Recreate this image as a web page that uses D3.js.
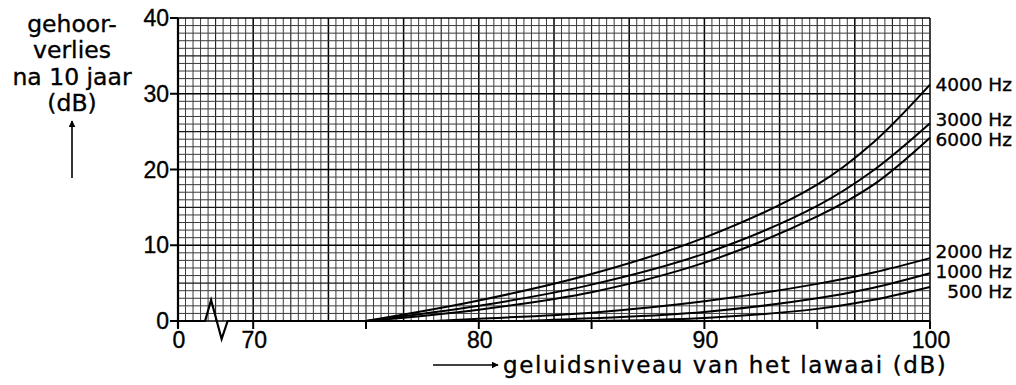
<!DOCTYPE html>
<html>
<head>
<meta charset="utf-8">
<script src="https://cdn.jsdelivr.net/npm/d3@7"></script>
<style>
  body { margin: 0; background: #fff; }
  svg { display: block; }
  text { fill: #000; stroke: #000; stroke-width: 0.35px; }
</style>
</head>
<body>
<div id="chart"></div>
<script>
// x values (dB) and hearing loss after 10 years (dB)
var seriesNames = ['4000 Hz', '3000 Hz', '6000 Hz', '2000 Hz', '1000 Hz', '500 Hz'];
var curve4000 = [[75, 0], [80, 2.7], [85, 6.2], [90, 11.0], [95, 18.0], [97.5, 23.6], [100, 31.2]];
var curve3000 = [[75, 0], [80, 2.0], [85, 4.8], [90, 8.9], [95, 15.2], [97.5, 19.9], [100, 26.1]];
var curve6000 = [[75, 0], [80, 1.5], [85, 3.8], [90, 7.7], [95, 13.8], [97.5, 18.0], [100, 24.2]];
var curve2000 = [[78, 0], [80, 0.3], [85, 1.1], [90, 2.6], [95, 4.9], [97.5, 6.4], [100, 8.3]];
var curve1000 = [[82, 0], [85, 0.35], [90, 1.2], [95, 3.0], [97.5, 4.4], [100, 6.3]];
var curve500 = [[85, 0], [90, 0.4], [95, 1.6], [97.5, 2.8], [100, 4.5]];
var allCurves = [curve4000, curve3000, curve6000, curve2000, curve1000, curve500];

var xTicks = [0, 70, 75, 80, 85, 90, 95, 100];
var xTickLabels = [0, 70, 80, 90, 100];
var yTicks = [0, 10, 20, 30, 40];

var width = 1016, height = 385;
var plotLeft = 178, plotRight = 930, plotTop = 18, plotBottom = 321;

var svg = d3.select('#chart').append('svg')
  .attr('width', width)
  .attr('height', height);

// the squared paper: 100 x 40 small squares
var paperX = d3.scaleLinear().domain([0, 100]).range([plotLeft, plotRight]);
var y = d3.scaleLinear().domain([0, 40]).range([plotBottom, plotTop]);
// broken axis: 0..70 squeezed into the first 10 squares
var x = d3.scaleLinear().domain([0, 70, 100]).range([plotLeft, paperX(10), plotRight]);

function lineWeight(i) {
  if (i % 10 === 0) return 1.5;
  if (i % 5 === 0) return 1.1;
  return 1;
}
function lineColor(i) {
  if (i % 10 === 0) return '#000';
  if (i % 5 === 0) return '#1a1a1a';
  return '#3a3a3a';
}

var grid = svg.append('g');
grid.selectAll('line.v')
  .data(d3.range(0, 101))
  .enter().append('line')
  .attr('class', 'v')
  .attr('x1', function(d) { return paperX(d); })
  .attr('x2', function(d) { return paperX(d); })
  .attr('y1', plotTop)
  .attr('y2', plotBottom)
  .attr('stroke', lineColor)
  .attr('stroke-width', lineWeight);

grid.selectAll('line.h')
  .data(d3.range(0, 41))
  .enter().append('line')
  .attr('class', 'h')
  .attr('x1', plotLeft)
  .attr('x2', plotRight)
  .attr('y1', function(d) { return y(d); })
  .attr('y2', function(d) { return y(d); })
  .attr('stroke', lineColor)
  .attr('stroke-width', lineWeight);

// curves
var line = d3.line()
  .x(function(d) { return x(d[0]); })
  .y(function(d) { return y(d[1]); })
  .curve(d3.curveCatmullRom.alpha(0.5));

svg.append('g').selectAll('path')
  .data(allCurves)
  .enter().append('path')
  .attr('d', line)
  .attr('fill', 'none')
  .attr('stroke', '#000')
  .attr('stroke-width', 2);

// axes
svg.append('line')
  .attr('x1', plotLeft).attr('x2', plotLeft)
  .attr('y1', plotTop).attr('y2', plotBottom + 7)
  .attr('stroke', '#000').attr('stroke-width', 2.2);

// x axis with the zigzag break
var b0 = paperX(3.6), b1 = paperX(4.4), b2 = paperX(5.8), b3 = paperX(6.6);
svg.append('path')
  .attr('d', 'M' + plotLeft + ',' + plotBottom + 'L' + b0 + ',' + plotBottom +
    'L' + b1 + ',' + (plotBottom - 21) + 'L' + b2 + ',' + (plotBottom + 18) +
    'L' + b3 + ',' + plotBottom + 'L' + plotRight + ',' + plotBottom)
  .attr('fill', 'none')
  .attr('stroke', '#000')
  .attr('stroke-width', 2.2)
  .attr('stroke-linejoin', 'miter');

svg.append('g').selectAll('line')
  .data(xTicks)
  .enter().append('line')
  .attr('x1', function(d) { return x(d); })
  .attr('x2', function(d) { return x(d); })
  .attr('y1', plotBottom)
  .attr('y2', plotBottom + 8)
  .attr('stroke', '#000')
  .attr('stroke-width', 2);

svg.append('g').selectAll('text')
  .data(xTickLabels)
  .enter().append('text')
  .attr('x', function(d) { return x(d) + 1; })
  .attr('y', 348)
  .attr('text-anchor', 'middle')
  .style('font', '23px "Liberation Sans", Arial, sans-serif')
  .text(function(d) { return d; });

svg.append('g').selectAll('line')
  .data(yTicks)
  .enter().append('line')
  .attr('x1', plotLeft - 8)
  .attr('x2', plotLeft)
  .attr('y1', function(d) { return y(d); })
  .attr('y2', function(d) { return y(d); })
  .attr('stroke', '#000')
  .attr('stroke-width', 2);

svg.append('g').selectAll('text')
  .data(yTicks)
  .enter().append('text')
  .attr('x', plotLeft - 9)
  .attr('y', function(d) { return y(d) + 8; })
  .attr('text-anchor', 'end')
  .style('font', '23px "Liberation Sans", Arial, sans-serif')
  .text(function(d) { return d; });

// curve labels
var labelY = [91, 126, 146, 258, 278, 298];
svg.append('g').selectAll('text')
  .data(seriesNames)
  .enter().append('text')
  .attr('x', 1012)
  .attr('y', function(d, i) { return labelY[i]; })
  .attr('text-anchor', 'end')
  .style('font', '18.5px "DejaVu Sans", sans-serif')
  .text(function(d) { return d; });

// y title
var yTitle = ['gehoor-', 'verlies', 'na 10 jaar', '(dB)'];
svg.append('g').selectAll('text')
  .data(yTitle)
  .enter().append('text')
  .attr('x', 72)
  .attr('y', function(d, i) { return 32 + i * 26.3; })
  .attr('text-anchor', 'middle')
  .style('font', '23.5px "DejaVu Sans", sans-serif')
  .text(function(d) { return d; });

var defs = svg.append('defs');
defs.append('marker')
  .attr('id', 'arrow')
  .attr('viewBox', '0 0 10 10')
  .attr('refX', 9).attr('refY', 5)
  .attr('markerWidth', 7).attr('markerHeight', 7)
  .attr('markerUnits', 'userSpaceOnUse')
  .attr('orient', 'auto')
  .append('path')
  .attr('d', 'M0,0L10,5L0,10Z')
  .attr('fill', '#000');

svg.append('line')
  .attr('x1', 72).attr('x2', 72)
  .attr('y1', 178).attr('y2', 121)
  .attr('stroke', '#000').attr('stroke-width', 1.6)
  .attr('marker-end', 'url(#arrow)');

// x title
svg.append('line')
  .attr('x1', 433).attr('x2', 498)
  .attr('y1', 365).attr('y2', 365)
  .attr('stroke', '#000').attr('stroke-width', 1.6)
  .attr('marker-end', 'url(#arrow)');

svg.append('text')
  .attr('x', 503)
  .attr('y', 373)
  .attr('letter-spacing', 1.6)
  .style('font', '23px "DejaVu Sans", sans-serif')
  .text('geluidsniveau van het lawaai (dB)');
</script>
</body>
</html>
